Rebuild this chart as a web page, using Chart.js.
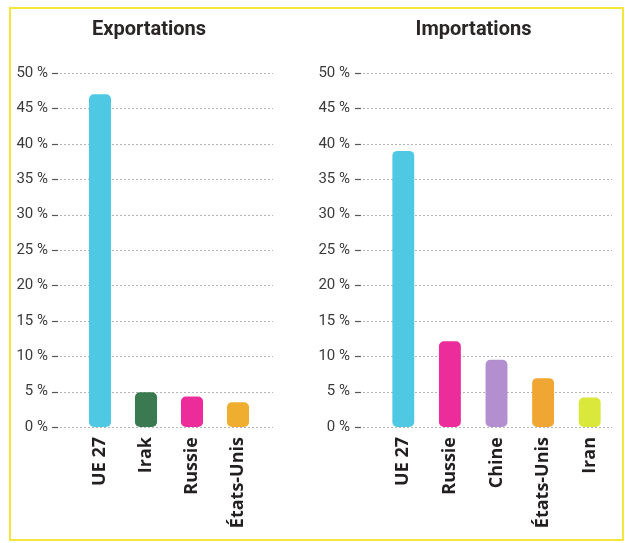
<!DOCTYPE html>
<html><head><meta charset="utf-8">
<script src="https://cdn.jsdelivr.net/npm/chart.js@4.4.0/dist/chart.umd.min.js"></script>
<style>
html,body{margin:0;padding:0;background:#fff;width:630px;height:543px;overflow:hidden}
#frame{position:absolute;left:9px;top:7px;width:611px;height:530px;border:2.5px solid #f3e53c;box-sizing:content-box}
.c{position:absolute;top:0}
</style></head><body>
<div id="frame"></div>
<div class="c" style="left:0;width:315px;height:543px"><canvas id="exp"></canvas></div>
<div class="c" style="left:315px;width:315px;height:543px"><canvas id="imp"></canvas></div>
<script>
const yTicks = [0,5,10,15,20,25,30,35,40,45,50];
const expCategories = ["UE 27","Irak","Russie","États-Unis"];
const expValues = [47.0, 4.9, 4.3, 3.5];
const expColors = ["#4fc9e3","#3b7a50","#ec2c9b","#efae2f"];
const impCategories = ["UE 27","Russie","Chine","États-Unis","Iran"];
const impValues = [39.0, 12.1, 9.5, 6.9, 4.15];
const impColors = ["#4fc9e3","#ec2c9b","#b48fcf","#f0a632","#d9e83a"];

const gridPlugin = {
  id:'customGrid',
  beforeDatasetsDraw(chart, args, opts){
    const ctx = chart.ctx, ys = chart.scales.y, ca = chart.chartArea;
    ctx.save();
    yTicks.forEach(v=>{
      const y = Math.round(ys.getPixelForValue(v))+0.5;
      ctx.strokeStyle = '#555'; ctx.lineWidth = 1.2; ctx.setLineDash([]);
      ctx.beginPath(); ctx.moveTo(ca.left+opts.dashL, y); ctx.lineTo(ca.left+opts.dashL+6, y); ctx.stroke();
      ctx.strokeStyle = '#b5b5b5'; ctx.lineWidth = 1; ctx.setLineDash([2,2]);
      ctx.beginPath(); ctx.moveTo(ca.left+opts.dashL+8, y); ctx.lineTo(ca.right+opts.extR, y); ctx.stroke();
    });
    ctx.restore();
  },
  afterDraw(chart, args, opts){
    const ctx = chart.ctx, ca = chart.chartArea;
    ctx.save();
    ctx.font = 'bold 20px "Roboto", sans-serif';
    ctx.fillStyle = '#2a2626';
    ctx.textAlign = 'center'; ctx.textBaseline = 'middle';
    ctx.fillText(opts.title, (ca.left+ca.right)/2 + opts.titleDx, 30);
    ctx.restore();
  }
};

function makeChart(id, cats, vals, cols, o){
  return new Chart(document.getElementById(id), {
    type:'bar',
    data:{labels:cats, datasets:[{data:vals, backgroundColor:cols, borderRadius:5, borderSkipped:false,
      barPercentage:o.bp, categoryPercentage:1}]},
    options:{
      responsive:true, maintainAspectRatio:false, animation:false,
      layout:{padding:{top:73, right:o.padR, left:0, bottom:0}},
      plugins:{legend:{display:false}, tooltip:{enabled:false}, title:{display:false},
        customGrid:{dashL:o.dashL, extR:o.extR, title:o.title, titleDx:o.titleDx}},
      scales:{
        y:{min:0, max:50, afterFit:s=>{s.width=o.yW;},
          afterBuildTicks:s=>{s.ticks = yTicks.map(v=>({value:v}));},
          grid:{display:false, drawTicks:false}, border:{display:false},
          ticks:{padding:o.yPad, color:'#3a3a3a', font:{family:'"Roboto", sans-serif', size:15},
            callback:v=>v+' %'}},
        x:{grid:{display:false, drawTicks:false}, border:{display:false},
          afterFit:s=>{s.height=116;},
          ticks:{minRotation:90, maxRotation:90, padding:10, color:'#231f20',
            font:{family:'"Open Sans", sans-serif', size:18, weight:'bold'}}}
      }
    },
    plugins:[gridPlugin]
  });
}
makeChart('exp', expCategories, expValues, expColors, {bp:0.48, padR:54, yW:77, yPad:29, dashL:-25, extR:12, title:'Exportations', titleDx:-20});
makeChart('imp', impCategories, impValues, impColors, {bp:0.47, padR:17, yW:65, yPad:30, dashL:-25, extR:-1, title:'Importations', titleDx:-23});
</script>
</body></html>
